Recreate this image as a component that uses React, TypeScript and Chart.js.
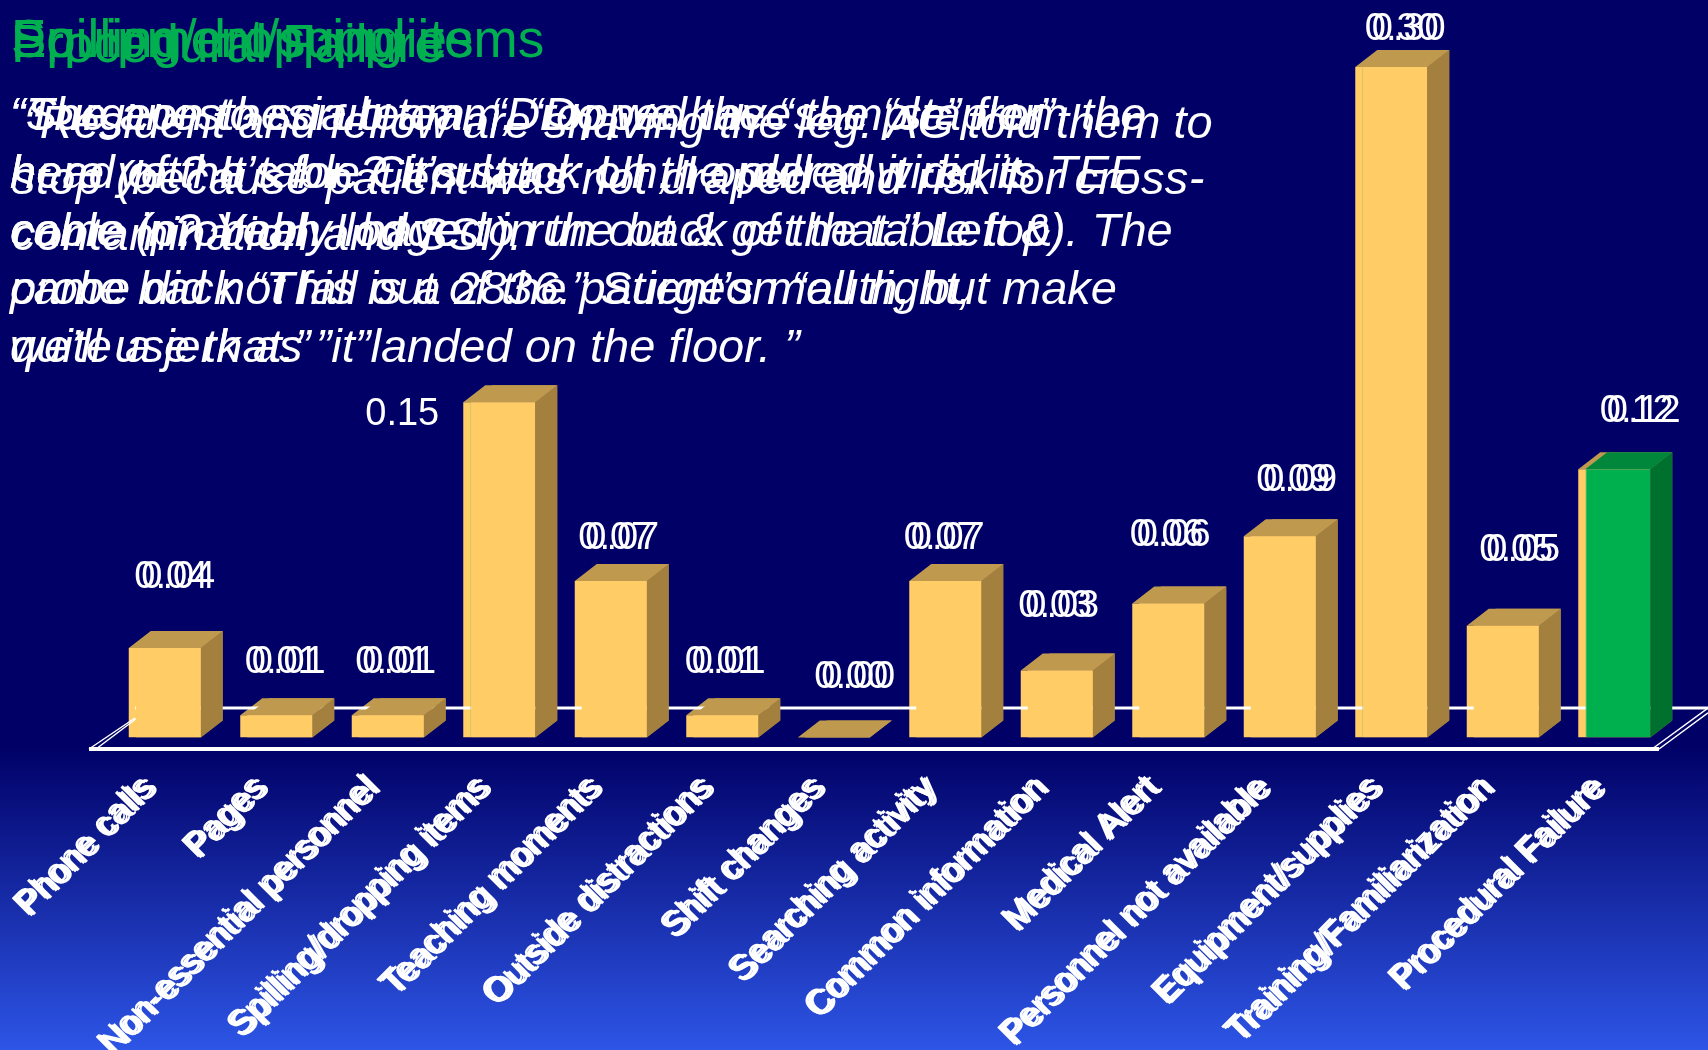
import React, { useEffect, useRef } from "react";
import { Chart, registerables } from "chart.js";

Chart.register(...registerables);

// ---- chart data ----
const categories = [
  "Phone calls",
  "Pages",
  "Non-essential personnel",
  "Spilling/dropping items",
  "Teaching moments",
  "Outside distractions",
  "Shift changes",
  "Searching activity",
  "Common information",
  "Medical Alert",
  "Personnel not available",
  "Equipment/supplies",
  "Training/Familiarization",
  "Procedural Failure",
];
const rates = [0.04, 0.01, 0.01, 0.15, 0.07, 0.01, 0.0, 0.07, 0.03, 0.06, 0.09, 0.3, 0.05, 0.12];

// Bars called out on the slide: green fill, or a thin seam along the left edge.
const greenBars = ["Procedural Failure"];
const seamBars = ["Spilling/dropping items", "Equipment/supplies", "Procedural Failure"];
const singleLabelBars = ["Spilling/dropping items"];

// Nudge of each value label from the top-centre of its bar.
const labelNudgeX = [10, 9, 8, -97, 8, 3, 21, -1, 2, 2, 17, 14, 17, 26];
const labelNudgeY = [-71, -53, -53, 12, -43, -53, -60, -43, -64, -68, -56, -38, -75, -58];

// ---- headings and quotes ----
const headings = ["Spilling/dropping items", "Equipment/supplies", "Procedural Failure"];

const quoteResident = [
  "“Resident and fellow are shaving the leg. AG told them to",
  "stop (because patient was not draped and risk for cross-",
  "contamination and SSI).",
];
const quoteProbe = [
  "“The anesthesia team, “Dropped the “sample” from the",
  "head of the table? It’s stuck on the pulled wire, its TEE",
  "cable (probably lodged in the back of the table top). The",
  "probe did not fall out of the patient’s mouth, but make",
  "quite a jerk as ”it”landed on the floor. ”",
];
const quoteStapler = [
  "“Surgeon to scrub team, “Do we have the “stapler”",
  "here yet? It’s for. Circulator: Uh, I ordered it did it",
  "come in? Yeah I have to run out & get that.” Left &",
  "came back “This is a 2836.” Surgeon “all right,",
  "we’ll use that.”",
];

const FONT = '"Liberation Sans", Arial, sans-serif';
const DEPTH_X = 22;
const DEPTH_Y = 17;
const LAYER_SHIFT = 7;
const TICK_PASSES = [
  [2.5, 1],
  [5, 0],
];

const palette = {
  front: "#FFCC66",
  top: "#BF9A4E",
  side: "#A4803F",
  greenFront: "#00B04F",
  greenTop: "#00873C",
  greenSide: "#00702E",
  seam: "#B5C46C",
  heading: "#00B050",
};

const isGreen = (i: number) => greenBars.includes(categories[i]);
const hasSeam = (i: number) => seamBars.includes(categories[i]);

// Top and side faces that give each bar its box look.
function drawBarFaces(chart: any, datasetIndex: number, coloured: boolean) {
  const { ctx } = chart;
  chart.getDatasetMeta(datasetIndex).data.forEach((bar: any, i: number) => {
    const { x, y, base, width } = bar.getProps(["x", "y", "base", "width"], true);
    const left = x - width / 2;
    const right = x + width / 2;
    const green = coloured && isGreen(i);
    ctx.fillStyle = green ? palette.greenSide : palette.side;
    ctx.beginPath();
    ctx.moveTo(right, y);
    ctx.lineTo(right + DEPTH_X, y - DEPTH_Y);
    ctx.lineTo(right + DEPTH_X, base - DEPTH_Y);
    ctx.lineTo(right, base);
    ctx.closePath();
    ctx.fill();
    ctx.fillStyle = green ? palette.greenTop : palette.top;
    ctx.beginPath();
    ctx.moveTo(left, y);
    ctx.lineTo(left + DEPTH_X, y - DEPTH_Y);
    ctx.lineTo(right + DEPTH_X, y - DEPTH_Y);
    ctx.lineTo(right, y);
    ctx.closePath();
    ctx.fill();
  });
}

// White outline of the chart floor, tied to the value-axis baseline.
function drawFloor(chart: any) {
  const { ctx, chartArea } = chart;
  const zero = chart.scales.y.getPixelForValue(0);
  const front = zero + 11.5;
  const back = zero - 29.5;
  const frontLeft = chartArea.left - 20;
  const frontRight = chartArea.right - 11;
  ctx.save();
  ctx.strokeStyle = "#FFFFFF";
  ctx.lineWidth = 4;
  ctx.beginPath();
  ctx.moveTo(frontLeft, front);
  ctx.lineTo(frontRight, front);
  ctx.stroke();
  ctx.lineWidth = 3;
  ctx.beginPath();
  ctx.moveTo(chartArea.left + 26, back);
  ctx.lineTo(chart.width, back);
  ctx.stroke();
  ctx.lineWidth = 1.5;
  [0, LAYER_SHIFT].forEach((shift) => {
    ctx.beginPath();
    ctx.moveTo(frontLeft + shift, front);
    ctx.lineTo(frontLeft + 46 + shift * 0.3, back + 10);
    ctx.moveTo(frontRight + shift - 7, front);
    ctx.lineTo(chart.width, back + shift * 0.7);
    ctx.stroke();
  });
  ctx.restore();
}

const boxBars = {
  id: "boxBars",
  // The front layer's bars start a little further right, keeping their right edge.
  afterDatasetsUpdate(chart: any) {
    chart.getDatasetMeta(1).data.forEach((bar: any) => {
      bar.x += LAYER_SHIFT / 2;
      bar.width -= LAYER_SHIFT;
    });
  },
  beforeDatasetDraw(chart: any, args: any) {
    if (args.index === 1) drawFloor(chart);
    drawBarFaces(chart, args.index, args.index === 1);
  },
};

const slideText = {
  id: "slideText",
  afterDraw(chart: any) {
    const { ctx } = chart;
    ctx.save();

    // Further passes of the category labels, shifted with the upper layers.
    TICK_PASSES.forEach(([dx, dy]) => {
      ctx.save();
      ctx.translate(dx, dy);
      chart.scales.x.drawLabels(chart.chartArea);
      ctx.restore();
    });

    // Value labels above the bars.
    ctx.fillStyle = "#FFFFFF";
    ctx.font = `38px ${FONT}`;
    ctx.textAlign = "center";
    ctx.textBaseline = "middle";
    const bars = chart.getDatasetMeta(0).data;
    rates.forEach((rate, i) => {
      const cx = bars[i].x + labelNudgeX[i];
      const cy = bars[i].y + labelNudgeY[i];
      const text = rate.toFixed(2);
      if (singleLabelBars.includes(categories[i])) {
        ctx.fillText(text, cx, cy);
      } else {
        ctx.fillText(text, cx - LAYER_SHIFT / 2, cy);
        ctx.fillText(text, cx + LAYER_SHIFT / 2, cy);
      }
    });

    // Headings.
    ctx.textAlign = "left";
    ctx.textBaseline = "alphabetic";
    ctx.fillStyle = palette.heading;
    ctx.font = `53px ${FONT}`;
    ctx.fillText(headings[0], 11, 57);
    ctx.fillText(headings[1], 11, 57);
    ctx.fillText(headings[2], 11, 62);

    // Quotes.
    ctx.fillStyle = "#FFFFFF";
    ctx.font = `italic 47px ${FONT}`;
    quoteResident.forEach((line, i) => {
      ctx.letterSpacing = i === 0 ? "0px" : "0.4px";
      ctx.fillText(line, i === 0 ? 24 : 12, 138 + i * 56);
    });
    ctx.letterSpacing = "0px";
    quoteProbe.forEach((line, i) => {
      ctx.fillText(line, 10, 130 + i * 58);
    });
    quoteStapler.forEach((line, i) => {
      ctx.fillText(line, 10, 130 + i * 58);
    });
    ctx.restore();
  },
};

export default function App() {
  const canvasRef = useRef<HTMLCanvasElement>(null);

  useEffect(() => {
    const chart = new Chart(canvasRef.current as HTMLCanvasElement, {
      type: "bar",
      data: {
        labels: categories,
        datasets: [
          {
            label: "Back layer",
            data: rates,
            backgroundColor: palette.front,
            borderWidth: 0,
            order: 2,
          },
          {
            label: "Front layer",
            data: rates,
            backgroundColor: (c: any) => (isGreen(c.dataIndex) ? palette.greenFront : palette.front),
            borderColor: palette.seam,
            borderWidth: (c: any) =>
              hasSeam(c.dataIndex) ? { left: 1, right: 0, top: 0, bottom: 0 } : 0,
            borderSkipped: false,
            order: 1,
          },
        ],
      },
      options: {
        responsive: false,
        animation: false,
        layout: { padding: { left: 109, right: 38, top: 0, bottom: 0 } },
        datasets: { bar: { grouped: false, categoryPercentage: 1, barPercentage: 0.6457 } },
        plugins: {
          legend: { display: false },
          tooltip: { enabled: false },
          title: { display: false },
        },
        scales: {
          x: {
            grid: { display: false },
            border: { display: false },
            afterFit(scale: any) {
              scale.height = 312.5;
            },
            ticks: {
              color: "#FFFFFF",
              font: { family: FONT, size: 35 },
              autoSkip: false,
              minRotation: 45,
              maxRotation: 45,
              padding: 22,
              labelOffset: -17,
            },
          },
          y: {
            display: false,
            min: 0,
            max: 0.33,
          },
        },
      },
      plugins: [boxBars, slideText],
    } as any);
    return () => chart.destroy();
  }, []);

  return (
    <div
      style={{
        position: "absolute",
        left: 0,
        top: 0,
        width: 1708,
        height: 1050,
        overflow: "hidden",
        background: "linear-gradient(#000066 0, #000066 745px, #2D55E6 1050px)",
      }}
    >
      <canvas ref={canvasRef} width={1708} height={1050} style={{ display: "block" }} />
    </div>
  );
}
